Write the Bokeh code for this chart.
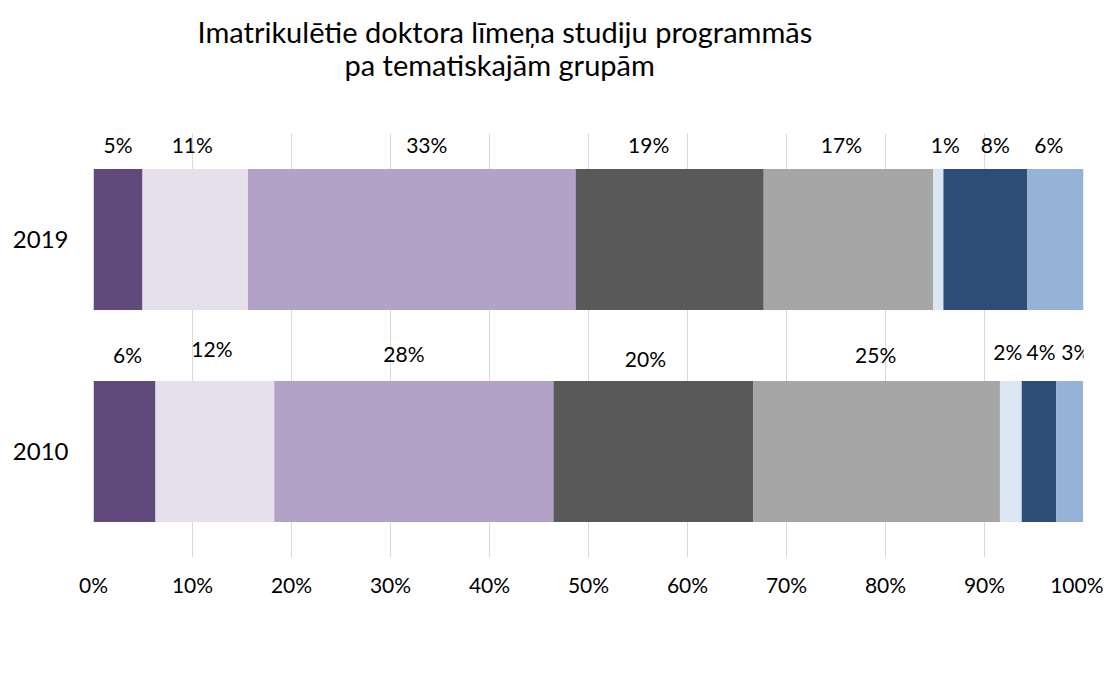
from bokeh.plotting import figure
from bokeh.models import (ColumnDataSource, FactorRange, Range1d, Legend, LegendItem,
                          Title, PrintfTickFormatter)
from bokeh.transform import dodge
from bokeh.embed import file_html
from bokeh.resources import INLINE

# ---- data ----
years = ["2010", "2019"]
groups = ["Izglītība", "Hum.zin.", "Soc.zin.", "Dabas zin.", "Inženierzin.",
          "Lauksaimniecība", "Veselības apr.", "Pakalpojumi"]
share_2019 = [4.95, 10.65, 33.1, 19.0, 17.1, 1.05, 8.45, 5.8]
share_2010 = [6.26, 12.0, 28.2, 20.2, 24.9, 2.2, 3.5, 2.7]
tick_values = [0, 10, 20, 30, 40, 50, 60, 70, 80, 90, 100]
title_lines = ["Imatrikulētie doktora līmeņa studiju programmās", "pa tematiskajām grupām"]

# ---- styles ----
colors = ["#604a7b", "#e6e0ec", "#b3a2c7", "#595959", "#a6a6a6",
          "#dce6f2", "#2c4d75", "#95b3d7"]
FONT = "Lato"
# small manual nudges of data labels (pixels), as in the reference
dx_2019 = [0, -3, 15, -21, -7, 7, 10, -7]
dy_2019 = [0, 0, 0, 0, 0, 0, 0, 0]
dx_2010 = [3, -3, -10, -8, -1, -3, 2, 6]
dy_2010 = [-2, -8, -3, 2, -2, -5, -5, -5]

series = {"2019": share_2019, "2010": share_2010}
data = {"year": years}
for i, g in enumerate(groups):
    data[g] = [series[y][i] for y in years]
source = ColumnDataSource(data)

p = figure(frame_width=990, frame_height=424, y_range=FactorRange(factors=years),
           x_range=Range1d(0, 100), output_backend="svg", toolbar_location=None,
           min_border_left=93, min_border_right=20, min_border_top=133,
           min_border_bottom=117)
p.outline_line_color = None

renderers = p.hbar_stack(groups, y="year", height=0.666, color=colors,
                         line_color=None, source=source)

# data labels
lx, ly, lt, ldx, ldy = [], [], [], [], []
for y, vals, dxs, dys in (("2019", share_2019, dx_2019, dy_2019),
                          ("2010", share_2010, dx_2010, dy_2010)):
    left = 0.0
    for v, ddx, ddy in zip(vals, dxs, dys):
        lx.append(left + v / 2.0)
        left += v
        ly.append(y)
        lt.append(f"{int(v + 0.5)}%")
        ldx.append(ddx)
        ldy.append(ddy)
lab_src = ColumnDataSource(dict(x=lx, y=ly, t=lt, dx=ldx, dy=ldy))
p.text(x="x", y=dodge("y", 0.447, range=p.y_range), text="t", source=lab_src,
       x_offset="dx", y_offset="dy", text_align="center", text_baseline="middle",
       text_font={"value": FONT}, text_font_size="21px", text_color="#000000")

# axes
p.xaxis.ticker = tick_values
p.xaxis.formatter = PrintfTickFormatter(format="%d%%")
p.xaxis.axis_line_color = None
p.xaxis.major_tick_line_color = None
p.xaxis.minor_tick_line_color = None
p.xaxis.major_label_standoff = 8
p.xaxis.major_label_text_font = FONT
p.xaxis.major_label_text_font_size = "21px"
p.xaxis.major_label_text_color = "#000000"

p.yaxis.axis_line_color = None
p.yaxis.major_tick_line_color = None
p.yaxis.minor_tick_line_color = None
p.yaxis.major_label_standoff = 19
p.yaxis.major_label_text_font = FONT
p.yaxis.major_label_text_font_size = "24px"
p.yaxis.major_label_text_color = "#000000"

p.xgrid.grid_line_color = "#d9d9d9"
p.xgrid.grid_line_width = 1
p.ygrid.grid_line_color = None

# legend below the plot
items = [LegendItem(label=g, renderers=[r]) for g, r in zip(groups, renderers)]
legend = Legend(items=items, orientation="horizontal", location="top_center",
                label_text_font=FONT, label_text_font_size="19px",
                label_text_color="#000000", glyph_width=14, glyph_height=14,
                label_standoff=6, spacing=12, padding=0, margin=30,
                border_line_color=None, background_fill_alpha=0)
p.add_layout(legend, "below")

# title (two lines) with an empty spacer between it and the plot frame
p.add_layout(Title(text=" ", standoff=17, text_font=FONT, text_font_size="29px",
                   text_color="#000000"), "above")
p.add_layout(Title(text=title_lines[1], align="left", offset=251, standoff=-4,
                   text_font=FONT, text_font_size="29px", text_font_style="normal",
                   text_color="#000000"), "above")
p.add_layout(Title(text=title_lines[0], align="left", offset=104, standoff=-4,
                   text_font=FONT, text_font_size="29px", text_font_style="normal",
                   text_color="#000000"), "above")

open("out.html", "w").write(file_html(p, INLINE))
